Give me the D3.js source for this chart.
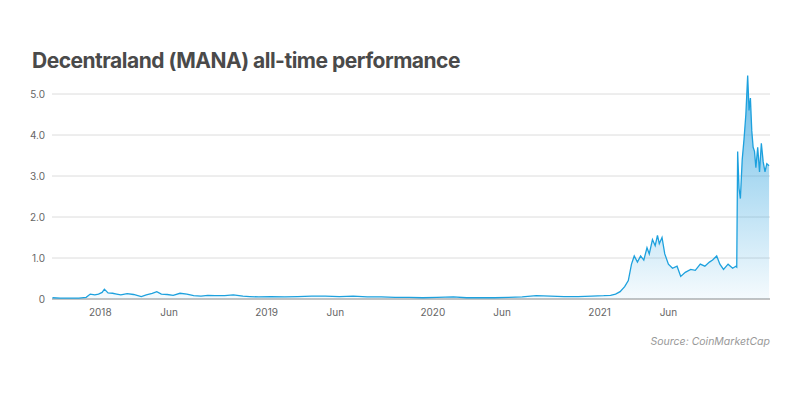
<!DOCTYPE html>
<html><head><meta charset="utf-8">
<script src="https://cdn.jsdelivr.net/npm/d3@7"></script>
<style>body{margin:0;background:#fff;font-family:Inter,"Open Sans",sans-serif}</style>
</head><body><svg id="chart" width="800" height="400"></svg>
<script>
var dates = ["2017-09-18","2017-10-05","2017-10-25","2017-11-15","2017-12-01","2017-12-10","2017-12-20","2017-12-28","2018-01-05","2018-01-10","2018-01-18","2018-01-28","2018-02-06","2018-02-15","2018-03-01","2018-03-15","2018-04-01","2018-04-12","2018-04-25","2018-05-05","2018-05-15","2018-05-28","2018-06-10","2018-06-25","2018-07-10","2018-07-25","2018-08-10","2018-08-25","2018-09-10","2018-10-01","2018-10-20","2018-11-10","2018-11-25","2018-12-15","2019-01-10","2019-02-10","2019-03-10","2019-04-10","2019-05-10","2019-06-10","2019-07-10","2019-08-10","2019-09-10","2019-10-10","2019-11-10","2019-12-10","2020-01-10","2020-02-15","2020-03-15","2020-04-15","2020-05-15","2020-06-15","2020-07-15","2020-08-15","2020-09-15","2020-10-15","2020-11-15","2020-12-15","2021-01-10","2021-01-25","2021-02-05","2021-02-15","2021-02-25","2021-03-05","2021-03-12","2021-03-18","2021-03-25","2021-04-01","2021-04-08","2021-04-15","2021-04-20","2021-04-27","2021-05-03","2021-05-08","2021-05-12","2021-05-18","2021-05-24","2021-06-01","2021-06-10","2021-06-20","2021-06-28","2021-07-08","2021-07-20","2021-07-30","2021-08-10","2021-08-20","2021-08-30","2021-09-06","2021-09-15","2021-09-22","2021-09-30","2021-10-10","2021-10-20","2021-10-27","2021-10-29","2021-10-31","2021-11-03","2021-11-06","2021-11-10","2021-11-14","2021-11-18","2021-11-22","2021-11-25","2021-11-28","2021-12-01","2021-12-04","2021-12-07","2021-12-10","2021-12-14","2021-12-18","2021-12-22","2021-12-26","2021-12-30","2022-01-03","2022-01-08"];
var prices = [0.03,0.02,0.02,0.02,0.04,0.12,0.10,0.12,0.16,0.24,0.15,0.14,0.12,0.10,0.13,0.11,0.06,0.10,0.14,0.18,0.12,0.11,0.09,0.14,0.12,0.08,0.07,0.09,0.08,0.08,0.10,0.07,0.06,0.05,0.06,0.05,0.06,0.07,0.07,0.06,0.07,0.05,0.05,0.04,0.04,0.03,0.04,0.05,0.03,0.03,0.03,0.04,0.05,0.08,0.07,0.06,0.06,0.07,0.08,0.09,0.12,0.18,0.30,0.45,0.85,1.05,0.90,1.05,0.95,1.25,1.10,1.45,1.30,1.55,1.35,1.50,1.10,0.85,0.75,0.80,0.55,0.65,0.72,0.70,0.85,0.80,0.90,0.95,1.05,0.85,0.72,0.85,0.75,0.80,0.78,3.60,2.70,2.45,3.40,3.90,4.50,5.45,4.60,4.90,4.10,3.70,3.60,3.20,3.70,3.10,3.80,3.35,3.10,3.30,3.25];
var yTicks = [0,1,2,3,4,5];
var xTickDates = ["2018-01-01","2018-06-01","2019-01-01","2019-06-01","2020-01-01","2020-06-01","2021-01-01","2021-06-01"];
var xTickLabels = ["2018","Jun","2019","Jun","2020","Jun","2021","Jun"];

var parse = d3.timeParse("%Y-%m-%d");
var data = dates.map(function(d,i){return {date:parse(d), v:prices[i]};});
var svg = d3.select("#chart");
var x = d3.scaleTime().domain([parse("2017-09-17"), parse("2022-01-10")]).range([52,770]);
var y = d3.scaleLinear().domain([0,5]).range([299,94]);

svg.append("text").attr("x",32).attr("y",68).text("Decentraland (MANA) all-time performance")
  .style("font-size","21px").style("font-weight","700").style("fill","#4a4a4a").style("letter-spacing","-0.5px");

var defs = svg.append("defs");
var g = defs.append("linearGradient").attr("id","fill").attr("x1",0).attr("y1",0).attr("x2",0).attr("y2",1);
g.append("stop").attr("offset","0%").attr("stop-color","#3aa7e0").attr("stop-opacity",0.75);
g.append("stop").attr("offset","100%").attr("stop-color","#3aa7e0").attr("stop-opacity",0.05);

svg.selectAll("line.grid").data(yTicks).enter().append("line")
  .attr("x1",52).attr("x2",770).attr("y1",function(d){return y(d);}).attr("y2",function(d){return y(d);})
  .attr("stroke",function(d){return d==0?"#888":"#dcdcdc";}).attr("stroke-width",1);
svg.selectAll("text.yl").data(yTicks).enter().append("text")
  .attr("x",45).attr("y",function(d){return y(d)+4;}).attr("text-anchor","end")
  .text(function(d){return d==0?"0":d.toFixed(1);}).style("font-size","10px").style("fill","#666");

svg.append("path").datum(data).attr("fill","url(#fill)")
  .attr("d",d3.area().x(function(d){return x(d.date);}).y0(y(0)).y1(function(d){return y(d.v);}));
svg.append("path").datum(data).attr("fill","none").attr("stroke","#1da1de").attr("stroke-width",1.3)
  .attr("d",d3.line().x(function(d){return x(d.date);}).y(function(d){return y(d.v);}));

svg.selectAll("text.xl").data(xTickDates).enter().append("text")
  .attr("x",function(d){return x(parse(d));}).attr("y",316).attr("text-anchor","middle")
  .text(function(d,i){return xTickLabels[i];}).style("font-size","10px").style("fill","#666");

svg.append("text").attr("x",770).attr("y",345).attr("text-anchor","end").text("Source: CoinMarketCap")
  .style("font-size","10.5px").style("font-style","italic").style("fill","#999");
</script></body></html>
